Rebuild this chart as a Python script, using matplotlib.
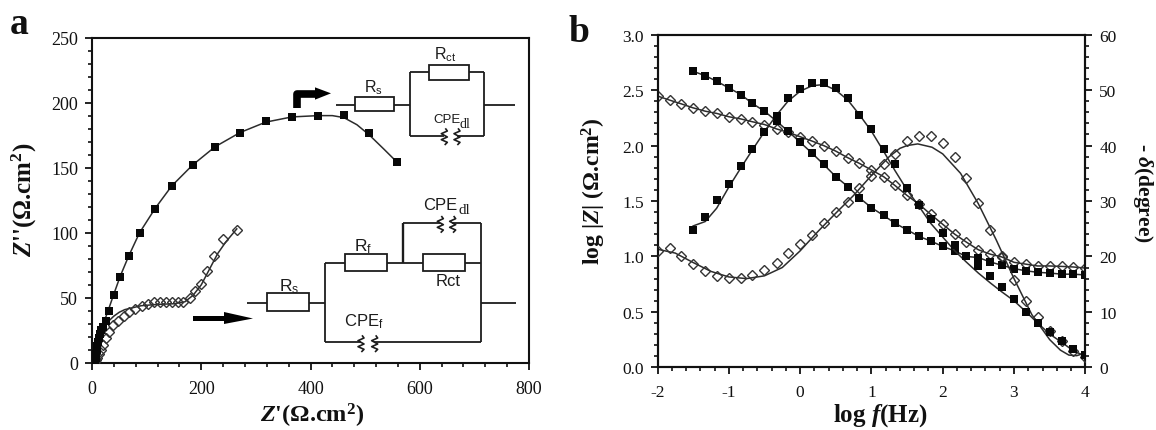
import matplotlib
matplotlib.use("Agg")
import matplotlib.pyplot as plt
from matplotlib.patches import Polygon, Rectangle

plt.rcParams['font.family'] = ['Liberation Serif', 'DejaVu Serif']
plt.rcParams['mathtext.fontset'] = 'custom'
plt.rcParams['mathtext.rm'] = 'Liberation Serif:bold'
plt.rcParams['mathtext.it'] = 'Liberation Serif:italic:bold'
plt.rcParams['mathtext.bf'] = 'Liberation Serif:bold'
plt.rcParams['mathtext.sf'] = 'Liberation Sans'
plt.rcParams['axes.unicode_minus'] = False

W, H = 1156, 431
INK = '#111111'
LINE = '#2c2c2c'

# panel a: Nyquist
a_sq_x = [5, 6, 7, 8, 9, 10, 11, 12, 14, 17, 21, 25.6, 31, 40, 52, 67, 87, 116, 146, 184, 225, 271, 318, 366, 414, 461, 508, 559]
a_sq_y = [0.5, 2, 4, 7, 10, 13, 16, 19, 22, 25, 28, 32, 40, 52, 66, 82, 100, 118, 136, 152, 166, 177, 186, 189, 189.7, 190.4, 176.6, 154]
a_sq_fit_x = [5, 8, 12, 18, 25, 31, 40, 52, 67, 87, 116, 146, 184, 225, 271, 318, 366, 414, 440, 461, 485, 508, 535, 559]
a_sq_fit_y = [0, 8, 18, 27, 35, 42, 53, 67, 82, 100, 119, 136, 152, 166, 177, 185, 189, 190, 190, 188.5, 183, 175, 164, 154]

a_di_x = [5, 7, 9, 12, 16, 20, 26, 32, 39, 48, 58, 68, 78, 91, 103, 113, 124, 135, 146, 158, 167, 179, 189, 199, 210, 223, 239, 266]
a_di_y = [1, 2, 4, 7, 10, 14, 19, 24, 29, 32.5, 36, 39, 41.5, 43.5, 45, 47, 47, 47, 47, 47, 47, 50, 55, 61, 71, 82, 95, 102]
a_di_fit_x = [5, 10, 15, 20, 30, 40, 50, 60, 70, 90, 120, 150, 170, 185, 200, 215, 230, 245, 265]
a_di_fit_y = [0, 10, 18, 25, 32, 36, 39, 41, 42, 44, 45, 45.5, 47, 52, 60, 72, 84, 93, 103]

# panel b: Bode
b_sq_f = [-1.5, -1.33, -1.17, -1.0, -0.83, -0.67, -0.5, -0.33, -0.17, 0, 0.17, 0.33, 0.5, 0.67, 0.83, 1.0, 1.17,
          1.33, 1.5, 1.67, 1.83, 2.0, 2.17, 2.33, 2.5, 2.67, 2.83, 3.0, 3.17, 3.33, 3.5, 3.67, 3.83, 4.0]
b_sq_mod = [2.67, 2.63, 2.58, 2.52, 2.46, 2.38, 2.31, 2.22, 2.13, 2.03, 1.93, 1.83, 1.72, 1.63, 1.53, 1.44, 1.37,
            1.30, 1.24, 1.18, 1.14, 1.09, 1.05, 1.0, 0.99, 0.95, 0.92, 0.89, 0.87, 0.857, 0.85, 0.84, 0.84, 0.833]
b_sq_phase = [24.7, 27.2, 30.2, 33, 36.3, 39.4, 42.5, 45.4, 48.5, 50.2, 51.2, 51.2, 50.3, 48.5, 45.6, 42.9, 39.4,
              36.7, 32.4, 29.3, 26.8, 24.2, 22.1, 20.1, 18.3, 16.5, 14.4, 12.3, 10, 8, 6.4, 4.75, 3.25, 2.2]
b_sq_phase_fit = [25.5, 26.3, 28.7, 32.5, 36, 39.2, 42.5, 45.5, 48, 49.8, 50.8, 51, 50, 48.2, 45.6, 42.6, 39,
                  35.5, 32, 29, 26, 23.5, 21, 19, 17, 15.2, 13.6, 12, 10, 8, 6, 4.5, 3, 2]

b_di_f = [-2.0, -1.83, -1.67, -1.5, -1.33, -1.17, -1.0, -0.83, -0.67, -0.5, -0.33, -0.17, 0, 0.17, 0.33, 0.5, 0.67, 0.83,
          1.0, 1.17, 1.33, 1.5, 1.67, 1.83, 2.0, 2.17, 2.33, 2.5, 2.67, 2.83, 3.0, 3.17, 3.33, 3.5, 3.67, 3.83, 4.0]
b_di_mod = [2.447, 2.41, 2.377, 2.34, 2.31, 2.29, 2.26, 2.24, 2.215, 2.19, 2.15, 2.12, 2.08, 2.04, 2.0, 1.95, 1.89, 1.84,
            1.78, 1.72, 1.64, 1.55, 1.47, 1.38, 1.29, 1.20, 1.13, 1.06, 1.02, 0.995, 0.947, 0.93, 0.914, 0.914, 0.91, 0.905, 0.895]
b_di_phase = [21, 21.5, 20, 18.6, 17.4, 16.5, 16.1, 16.05, 16.6, 17.6, 18.9, 20.6, 22.2, 23.8, 26.1, 28, 29.9, 32.3,
              34.5, 36.6, 38.5, 40.8, 41.7, 41.8, 40.4, 38, 34.2, 29.6, 24.8, 20, 15.8, 12, 9, 6.6, 4.8, 3, 1.9]
b_di_fit_f = [-2, -1.75, -1.5, -1.25, -1, -0.75, -0.5, -0.25, 0, 0.25, 0.5, 0.75, 1, 1.25, 1.4, 1.5, 1.65, 1.85, 2.0,
              2.25, 2.5, 2.75, 3, 3.25, 3.5, 3.65, 3.77, 3.88, 4]
b_di_fit_phase = [21.3, 20.6, 18.9, 17.3, 16.3, 16.0, 16.5, 18, 21, 24.5, 27.8, 31, 34.6, 38, 39.5, 40, 40.3, 39.7, 38.5,
                  35, 29.5, 23, 16, 9.5, 5, 3.1, 2.2, 2.1, 2.6]


def axes_px(fig, left, top, right, bottom):
    return fig.add_axes([left / W, 1 - bottom / H, (right - left) / W, (bottom - top) / H])


def style_ticks(ax, size=12):
    ax.tick_params(which='major', length=5, width=1.3, labelsize=size, color=INK, labelcolor=INK, pad=5)
    ax.tick_params(which='minor', length=3, width=1.2, color=INK)
    for s in ax.spines.values():
        s.set_linewidth(1.5)
        s.set_color(INK)


def squares(ax, x, y):
    ax.plot(x, y, 's', ms=6.2, color='#080808', mew=0, zorder=3)


def diamonds(ax, x, y, ms=5.0):
    ax.plot(x, y, 'D', ms=ms, mfc='none', mec='#333333', mew=1.0, zorder=3)


fig = plt.figure(figsize=(W / 100, H / 100), dpi=100)

# a
ax = axes_px(fig, 92, 38.5, 529, 364)
ax.plot(a_sq_fit_x, a_sq_fit_y, color=LINE, lw=1.1)
ax.plot(a_di_fit_x, a_di_fit_y, color=LINE, lw=1.1)
diamonds(ax, a_di_x, a_di_y, 5.0)
squares(ax, a_sq_x, a_sq_y)
ax.set_xlim(0, 800)
ax.set_ylim(0, 250)
ax.set_xticks([0, 200, 400, 600, 800])
ax.set_xticks(list(range(0, 801, 40)), minor=True)
ax.set_yticks([0, 50, 100, 150, 200, 250])
ax.set_yticks(list(range(0, 251, 10)), minor=True)
style_ticks(ax, 13)
ax.tick_params(axis='x', pad=7)

# b
bx = axes_px(fig, 657.5, 35.7, 1085.3, 368.3)
bx.plot(b_sq_f, b_sq_mod, color=LINE, lw=1.1)
bx.plot(b_di_f, b_di_mod, color=LINE, lw=1.1)
diamonds(bx, b_di_f, b_di_mod, 5.6)
squares(bx, b_sq_f, b_sq_mod)
bx.set_xlim(-2, 4)
bx.set_ylim(0, 3)
bx.set_xticks([-2, -1, 0, 1, 2, 3, 4])
bx.set_xticks([-2 + i * 0.2 for i in range(31)], minor=True)
bx.set_yticks([0, 0.5, 1, 1.5, 2, 2.5, 3])
bx.set_yticklabels(['0.0', '0.5', '1.0', '1.5', '2.0', '2.5', '3.0'])
bx.set_yticks([i * 0.1 for i in range(31)], minor=True)
style_ticks(bx, 12.5)
bx.tick_params(axis='x', pad=7)

rx = bx.twinx()
rx.plot(b_sq_f, b_sq_phase_fit, color=LINE, lw=1.1)
rx.plot(b_di_fit_f, b_di_fit_phase, color=LINE, lw=1.1)
diamonds(rx, b_di_f, b_di_phase, 5.6)
squares(rx, b_sq_f, b_sq_phase)
rx.set_ylim(0, 60)
rx.set_yticks([0, 10, 20, 30, 40, 50, 60])
rx.set_yticks(list(range(0, 61, 2)), minor=True)
style_ticks(rx, 12.5)

# overlay in picture pixels for labels, circuits and arrows
ov = fig.add_axes([0, 0, 1, 1], zorder=10)
ov.set_xlim(0, W)
ov.set_ylim(H, 0)
ov.axis('off')
ov.patch.set_alpha(0)


def zx(z):
    return 240 + z / 3


def zy(z):
    return 30 + z / 3


def wire(*pts, lw=1.3):
    ov.plot([zx(p[0]) for p in pts], [zy(p[1]) for p in pts], color='#1c1c1c', lw=lw, solid_capstyle='butt')


def box(x0, y0, x1, y1):
    ov.add_patch(Rectangle((zx(x0), zy(y0)), (x1 - x0) / 3, (y1 - y0) / 3, fill=False, ec='#1c1c1c', lw=1.3))


def squiggle(x, y):
    # one wavy stroke of the CPE symbol, centred on x, y in zoom units
    wire((x + 4, y - 24), (x + 10, y - 16), (x - 8, y - 8), (x + 10, y + 2), (x - 8, y + 10), (x + 10, y + 18), (x + 2, y + 26), lw=1.2)


def label(x, y, s, size=10.5, fam='Liberation Sans'):
    ov.text(zx(x), zy(y), s, fontsize=size, family=fam, ha='center', va='center', color='#1c1c1c')


# upper circuit
wire((288, 227), (345, 227))
box(345, 205, 463, 247)
wire((463, 227), (510, 227))
wire((510, 130), (510, 322))
wire((510, 130), (567, 130))
box(567, 108, 686, 152)
wire((686, 130), (733, 130))
wire((733, 130), (733, 322))
wire((510, 322), (612, 322))
wire((650, 322), (733, 322))
wire((733, 227), (824, 227))
squiggle(612, 322)
squiggle(650, 322)
label(400, 172, 'R$_{\\mathsf{s}}$', 11.5)
label(617, 75, 'R$_{\\mathsf{ct}}$', 11.5)
label(622, 270, 'CPE', 9.5)
label(675, 283, 'dl', 10, 'Liberation Serif')

# lower circuit
wire((22, 821), (82, 821))
box(82, 793, 207, 847)
wire((207, 821), (256, 821))
wire((256, 702), (256, 940))
wire((256, 702), (316, 702))
box(316, 675, 440, 727)
wire((440, 702), (550, 702))
box(550, 675, 675, 727)
wire((675, 702), (724, 702))
wire((724, 582), (724, 940))
wire((490, 702), (490, 582), lw=1.7)
wire((490, 582), (600, 582))
wire((637, 582), (724, 582))
wire((256, 940), (362, 940))
wire((403, 940), (724, 940))
wire((724, 821), (827, 821))
squiggle(600, 585)
squiggle(637, 585)
squiggle(362, 943)
squiggle(403, 943)
label(600, 528, 'CPE', 12)
label(673, 541, 'dl', 11, 'Liberation Serif')
label(370, 650, 'R$_{\\mathsf{f}}$', 12.5)
label(623, 755, 'Rct', 12)
label(147, 770, 'R$_{\\mathsf{s}}$', 12.5)
label(370, 875, 'CPE$_{\\mathsf{f}}$', 12)

# arrows
ov.plot([zx(170), zx(170), zx(225)], [zy(238), zy(195), zy(195)], color='black', lw=5.5,
        solid_joinstyle='round', solid_capstyle='butt')
ov.add_patch(Polygon([(zx(225), zy(175)), (zx(273), zy(193)), (zx(225), zy(212))], color='black', lw=0))
ov.add_patch(Rectangle((192.5, 316.5), 32, 5.5, color='black', lw=0))
ov.add_patch(Polygon([(224, 313), (253, 319.5), (224, 325)], color='black', lw=0))

# panel letters and axis titles
ov.text(19, 25, 'a', fontsize=27, fontweight='bold', ha='center', va='center', color='#111111')
ov.text(579, 32, 'b', fontsize=27, fontweight='bold', ha='center', va='center', color='#111111')
ov.text(24, 200, r"$\mathit{Z}$''(Ω.cm$^{\mathbf{2}}$)", fontsize=18, fontweight='bold', rotation=90, ha='center', va='center', color='#111111')
ov.text(312, 416, r"$\mathit{Z}$'(Ω.cm$^{\mathbf{2}}$)", fontsize=17.5, fontweight='bold', ha='center', va='center', color='#111111')
ov.text(594, 191, r"log |$\mathit{Z}$| (Ω.cm$^{\mathbf{2}}$)", fontsize=17, fontweight='bold', rotation=90, ha='center', va='center', color='#111111')
ov.text(880, 416, r"log $\mathit{f}$(Hz)", fontsize=18, fontweight='bold', ha='center', va='center', color='#111111')
ov.text(1143, 193, r"- $\mathit{\delta}$(degree)", fontsize=15.5, fontweight='bold', rotation=270, ha='center', va='center', color='#111111')

fig.savefig('out.png', dpi=100)
